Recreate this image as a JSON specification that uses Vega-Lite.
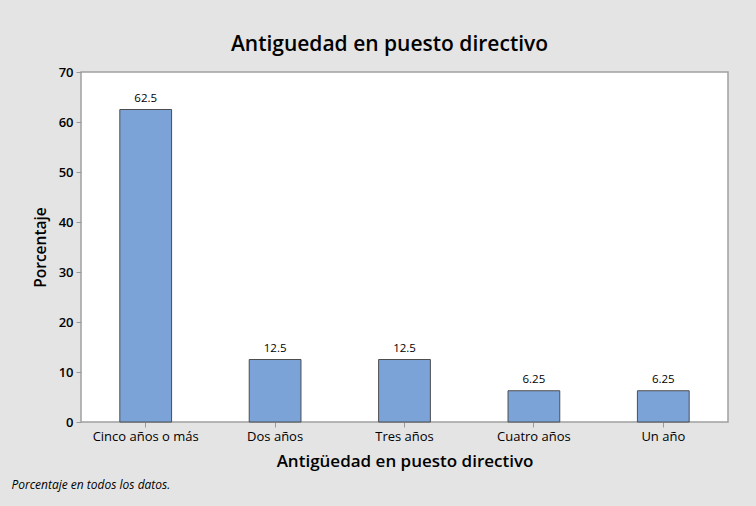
{
  "$schema": "https://vega.github.io/schema/vega-lite/v6.json",
  "background": "#e4e4e4",
  "padding": {"left": 11, "top": 33, "right": 30, "bottom": 18},
  "title": {
    "text": "Porcentaje en todos los datos.",
    "orient": "bottom",
    "anchor": "start",
    "frame": "bounds",
    "font": "Open Sans",
    "fontSize": 12,
    "fontStyle": "italic",
    "fontWeight": "normal",
    "color": "#000000",
    "offset": 10,
    "dx": -21
  },
  "config": {
    "font": "Open Sans",
    "view": {"stroke": "#a0a0a0", "strokeWidth": 1.5, "fill": "#ffffff"},
    "axis": {
      "domain": false,
      "grid": false,
      "tickColor": "#9a9a9a",
      "tickSize": 5,
      "labelColor": "#000000",
      "titleColor": "#000000",
      "labelFont": "Open Sans",
      "titleFont": "Open Sans"
    }
  },
  "vconcat": [
    {
      "title": {
        "text": "Antiguedad en puesto directivo",
        "font": "Open Sans",
        "fontSize": 21,
        "fontWeight": 600,
        "color": "#000000",
        "anchor": "middle",
        "offset": 11,
        "dx": -15
      },
      "width": 647,
      "height": 350,
      "data": {
        "values": [
          {"antiguedad": "Cinco años o más", "porcentaje": 62.5, "etiqueta": "62.5"},
          {"antiguedad": "Dos años", "porcentaje": 12.5, "etiqueta": "12.5"},
          {"antiguedad": "Tres años", "porcentaje": 12.5, "etiqueta": "12.5"},
          {"antiguedad": "Cuatro años", "porcentaje": 6.25, "etiqueta": "6.25"},
          {"antiguedad": "Un año", "porcentaje": 6.25, "etiqueta": "6.25"}
        ]
      },
      "encoding": {
        "x": {
          "field": "antiguedad",
          "type": "nominal",
          "sort": null,
          "scale": {"paddingInner": 0.6, "paddingOuter": 0.3},
          "axis": {
            "title": "Antigüedad en puesto directivo",
            "titleFontSize": 17,
            "titleFontWeight": 600,
            "titlePadding": 10,
            "labelAngle": 0,
            "labelFontSize": 13,
            "labelFontWeight": "normal",
            "labelPadding": 3
          }
        },
        "y": {
          "field": "porcentaje",
          "type": "quantitative",
          "scale": {"domain": [0, 70], "nice": false},
          "axis": {
            "title": "Porcentaje",
            "values": [0, 10, 20, 30, 40, 50, 60, 70],
            "titleFontSize": 15.5,
            "titleFontWeight": 600,
            "titlePadding": 10,
            "labelFontSize": 13,
            "labelFontWeight": 600,
            "labelPadding": 3
          }
        }
      },
      "layer": [
        {
          "mark": {"type": "bar", "fill": "#7ba3d8", "stroke": "#4d4d4d", "strokeWidth": 1}
        },
        {
          "mark": {"type": "text", "baseline": "bottom", "dy": -6, "fontSize": 11.5, "color": "#000000"},
          "encoding": {"text": {"field": "etiqueta"}}
        }
      ]
    }
  ]
}
